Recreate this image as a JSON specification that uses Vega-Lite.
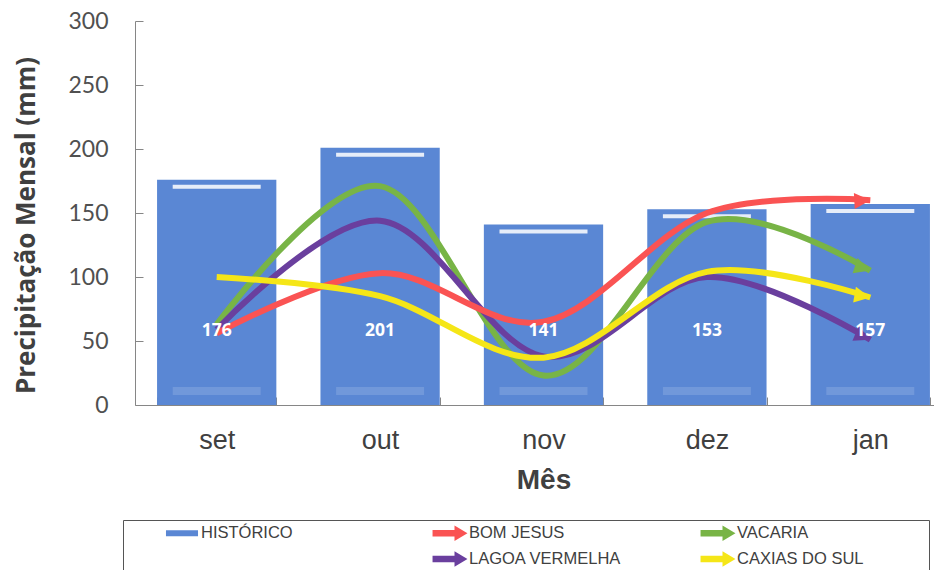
{
  "$schema": "https://vega.github.io/schema/vega-lite/v6.json",
  "width": 799,
  "height": 384,
  "autosize": {"type": "none"},
  "padding": {"left": 135, "top": 21, "right": 0, "bottom": 165},
  "background": "white",
  "config": {
    "view": {"stroke": null},
    "axis": {"grid": false, "domainColor": "#868686", "tickColor": "#868686", "tickSize": -8}
  },
  "data": {
    "values": [
      {"mes": "set", "serie": "HISTÓRICO", "valor": 176},
      {"mes": "out", "serie": "HISTÓRICO", "valor": 201},
      {"mes": "nov", "serie": "HISTÓRICO", "valor": 141},
      {"mes": "dez", "serie": "HISTÓRICO", "valor": 153},
      {"mes": "jan", "serie": "HISTÓRICO", "valor": 157},
      {"mes": "set", "serie": "VACARIA", "valor": 63},
      {"mes": "out", "serie": "VACARIA", "valor": 171},
      {"mes": "nov", "serie": "VACARIA", "valor": 23},
      {"mes": "dez", "serie": "VACARIA", "valor": 143},
      {"mes": "jan", "serie": "VACARIA", "valor": 105},
      {"mes": "set", "serie": "LAGOA VERMELHA", "valor": 59},
      {"mes": "out", "serie": "LAGOA VERMELHA", "valor": 144},
      {"mes": "nov", "serie": "LAGOA VERMELHA", "valor": 38},
      {"mes": "dez", "serie": "LAGOA VERMELHA", "valor": 100},
      {"mes": "jan", "serie": "LAGOA VERMELHA", "valor": 51},
      {"mes": "set", "serie": "BOM JESUS", "valor": 56},
      {"mes": "out", "serie": "BOM JESUS", "valor": 103},
      {"mes": "nov", "serie": "BOM JESUS", "valor": 65},
      {"mes": "dez", "serie": "BOM JESUS", "valor": 150},
      {"mes": "jan", "serie": "BOM JESUS", "valor": 160},
      {"mes": "set", "serie": "CAXIAS DO SUL", "valor": 100},
      {"mes": "out", "serie": "CAXIAS DO SUL", "valor": 85},
      {"mes": "nov", "serie": "CAXIAS DO SUL", "valor": 37},
      {"mes": "dez", "serie": "CAXIAS DO SUL", "valor": 104},
      {"mes": "jan", "serie": "CAXIAS DO SUL", "valor": 84}
    ]
  },
  "encoding": {
    "x": {
      "field": "mes",
      "type": "nominal",
      "sort": ["set", "out", "nov", "dez", "jan"],
      "scale": {"range": [0, 817], "paddingInner": 0.27, "paddingOuter": 0.135},
      "axis": {
        "title": "Mês",
        "titleFont": "Liberation Sans",
        "titleFontSize": 28,
        "titleFontWeight": "bold",
        "titleColor": "#404040",
        "titleBaseline": "alphabetic",
        "titleY": 83,
        "labelFont": "Liberation Sans",
        "labelFontSize": 27,
        "labelColor": "#404040",
        "labelAngle": 0,
        "labelPadding": 30,
        "tickBand": "extent"
      }
    }
  },
  "layer": [
    {
      "transform": [{"filter": "datum.serie === 'HISTÓRICO'"}],
      "mark": {"type": "bar"},
      "encoding": {
        "y": {
          "field": "valor",
          "type": "quantitative",
          "scale": {"domain": [0, 300]},
          "axis": {
            "values": [0, 50, 100, 150, 200, 250, 300],
            "title": "Precipitação Mensal (mm)",
            "titleFont": "Open Sans",
            "titleFontSize": 26,
            "titleFontWeight": "bold",
            "titleColor": "#404040",
            "titleBaseline": "alphabetic",
            "titleX": -101,
            "titleY": 204,
            "labelFont": "Lato",
            "labelFontSize": 23,
            "labelColor": "#505050",
            "labelPadding": 35
          }
        },
        "color": {
          "field": "serie",
          "type": "nominal",
          "scale": {
            "domain": ["HISTÓRICO", "BOM JESUS", "VACARIA", " ", "LAGOA VERMELHA", "CAXIAS DO SUL"],
            "range": ["#5a87d4", "#fa5353", "#78b446", "transparent", "#6a3f9e", "#f5e617"]
          },
          "legend": {
            "orient": "none",
            "legendX": -12,
            "legendY": 499,
            "direction": "horizontal",
            "columns": 3,
            "gridAlign": "all",
            "title": " ",
            "titleOrient": "left",
            "titlePadding": 46,
            "strokeColor": "#555555",
            "padding": 4,
            "labelFont": "Liberation Sans",
            "labelFontSize": 16.5,
            "labelColor": "#404040",
            "symbolSize": 324,
            "labelOffset": 10,
            "columnPadding": 43,
            "rowPadding": 8,
            "encode": {
              "symbols": {
                "update": {
                  "shape": {"signal": "datum.value === 'HISTÓRICO' ? 'M-1.78,-0.33H1.78V0.33H-1.78Z' : (datum.value === 'CAXIAS DO SUL' || datum.value === 'VACARIA') ? 'M-1.94,-0.36L0.5,-0.36L0.5,-0.85L1.94,0L0.5,0.85L0.5,0.36L-1.94,0.36ZM23,0Z' : 'M-1.94,-0.36L0.5,-0.36L0.5,-0.85L1.94,0L0.5,0.85L0.5,0.36L-1.94,0.36Z'"},
                  "fill": {"scale": "color", "field": "value"},
                  "stroke": {"value": "transparent"},
                  "strokeWidth": {"value": 0},
                  "opacity": {"value": 1}
                }
              }
            }
          }
        }
      }
    },
    {
      "transform": [{"filter": "datum.serie === 'HISTÓRICO'"}],
      "mark": {"type": "tick", "color": "white", "thickness": 4, "size": 88, "yOffset": 7, "opacity": 0.85},
      "encoding": {"y": {"field": "valor", "type": "quantitative"}}
    },
    {
      "transform": [{"filter": "datum.serie === 'HISTÓRICO'"}],
      "mark": {"type": "tick", "color": "white", "thickness": 8, "size": 88, "yOffset": -14, "opacity": 0.14},
      "encoding": {"y": {"datum": 0}}
    },
    {
      "transform": [{"filter": "datum.serie !== 'HISTÓRICO'"}],
      "mark": {"type": "line", "interpolate": "cardinal", "tension": 0, "strokeWidth": 6, "strokeCap": "butt"},
      "encoding": {
        "y": {"field": "valor", "type": "quantitative"},
        "color": {"field": "serie", "type": "nominal"},
        "detail": {"field": "serie"}
      }
    },
    {
      "transform": [{"filter": "datum.serie === 'VACARIA' && datum.mes === 'jan'"}],
      "mark": {"type": "point", "shape": "M0,0L-2,-1L-2,1Z", "size": 256, "filled": true, "opacity": 1, "angle": 18},
      "encoding": {"y": {"field": "valor", "type": "quantitative"}, "color": {"field": "serie", "type": "nominal"}}
    },
    {
      "transform": [{"filter": "datum.serie === 'LAGOA VERMELHA' && datum.mes === 'jan'"}],
      "mark": {"type": "point", "shape": "M0,0L-2,-1L-2,1Z", "size": 256, "filled": true, "opacity": 1, "angle": 23},
      "encoding": {"y": {"field": "valor", "type": "quantitative"}, "color": {"field": "serie", "type": "nominal"}}
    },
    {
      "transform": [{"filter": "datum.serie === 'BOM JESUS' && datum.mes === 'jan'"}],
      "mark": {"type": "point", "shape": "M0,0L-2,-1L-2,1Z", "size": 256, "filled": true, "opacity": 1, "angle": -3},
      "encoding": {"y": {"field": "valor", "type": "quantitative"}, "color": {"field": "serie", "type": "nominal"}}
    },
    {
      "transform": [{"filter": "datum.serie === 'CAXIAS DO SUL' && datum.mes === 'jan'"}],
      "mark": {"type": "point", "shape": "M0,0L-2,-1L-2,1Z", "size": 256, "filled": true, "opacity": 1, "angle": 10},
      "encoding": {"y": {"field": "valor", "type": "quantitative"}, "color": {"field": "serie", "type": "nominal"}}
    },
    {
      "transform": [{"filter": "datum.serie === 'HISTÓRICO'"}],
      "mark": {"type": "text", "color": "white", "font": "Open Sans", "fontSize": 17.5, "fontWeight": "bold", "baseline": "middle"},
      "encoding": {"y": {"datum": 58}, "text": {"field": "valor", "type": "quantitative"}}
    }
  ]
}
